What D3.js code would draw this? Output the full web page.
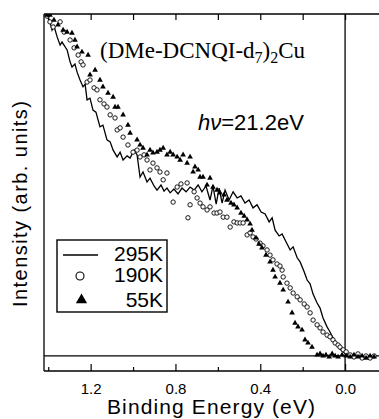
<!DOCTYPE html>
<html>
<head>
<meta charset="utf-8">
<script src="https://cdn.jsdelivr.net/npm/d3@7"></script>
<style>
  html, body { margin: 0; padding: 0; background: #fff; }
  svg { display: block; }
</style>
</head>
<body>
<svg id="chart" width="379" height="419"></svg>
<script>
// [binding energy (eV), intensity (arb.)]
const line295 = [
  [1.406, 99.4], [1.392, 97.7], [1.382, 95.3], [1.373, 96.5], [1.358, 93.3], [1.344, 90.9],
  [1.335, 91.8], [1.311, 89.5], [1.297, 86.0], [1.288, 84.5], [1.274, 85.4], [1.264, 83.0],
  [1.250, 80.7], [1.236, 78.7], [1.226, 79.5], [1.217, 74.9], [1.203, 75.4], [1.189, 71.9],
  [1.175, 71.3], [1.156, 67.0], [1.142, 67.5], [1.123, 63.2], [1.108, 62.6], [1.094, 60.2],
  [1.075, 58.2], [1.061, 59.6], [1.047, 57.3], [1.028, 58.5], [1.014, 57.9], [0.995, 60.2],
  [0.981, 58.8], [0.967, 52.3], [0.953, 53.8], [0.934, 50.9], [0.920, 52.0], [0.901, 49.7],
  [0.887, 48.5], [0.868, 50.0], [0.854, 48.2], [0.840, 49.1], [0.825, 47.7], [0.807, 48.8],
  [0.788, 47.4], [0.769, 49.1], [0.750, 48.0], [0.731, 49.4], [0.712, 48.5], [0.693, 50.0],
  [0.675, 48.0], [0.656, 49.7], [0.637, 45.6], [0.623, 49.7], [0.608, 44.4], [0.594, 49.1],
  [0.580, 44.7], [0.566, 48.5], [0.547, 45.6], [0.528, 48.0], [0.509, 46.2], [0.491, 46.8],
  [0.472, 44.7], [0.453, 45.6], [0.434, 43.3], [0.415, 44.2], [0.396, 42.1], [0.377, 41.5],
  [0.358, 39.2], [0.344, 40.4], [0.330, 36.8], [0.311, 35.1], [0.297, 35.7], [0.278, 33.3],
  [0.259, 31.0], [0.245, 31.9], [0.226, 28.7], [0.212, 27.5], [0.193, 24.6], [0.179, 22.2],
  [0.165, 21.1], [0.151, 18.1], [0.132, 15.5], [0.118, 14.0], [0.104, 11.1], [0.085, 8.5],
  [0.071, 7.0], [0.052, 4.7], [0.038, 3.5], [0.024, 2.0], [0.009, 1.2], [-0.005, 0.6],
  [-0.024, -0.3], [-0.047, 0.3], [-0.071, -0.3], [-0.094, 0.0], [-0.118, -0.3], [-0.146, 0.0]
];

const circ190 = [
  [1.406, 99.4], [1.392, 97.7], [1.377, 96.2], [1.344, 97.7], [1.325, 94.7], [1.297, 92.4],
  [1.278, 90.1], [1.259, 88.0], [1.245, 86.0], [1.236, 85.1], [1.217, 80.1], [1.203, 80.7],
  [1.184, 78.4], [1.170, 77.8], [1.156, 74.9], [1.137, 73.7], [1.123, 72.8], [1.108, 70.5],
  [1.085, 69.6], [1.075, 66.1], [1.061, 66.7], [1.047, 64.0], [1.024, 61.7], [1.000, 59.6],
  [0.981, 60.2], [0.967, 58.2], [0.948, 58.8], [0.934, 57.3], [0.920, 54.4], [0.906, 56.4],
  [0.887, 55.0], [0.873, 53.8], [0.858, 51.5], [0.840, 53.5], [0.811, 45.0], [0.792, 49.4],
  [0.774, 50.3], [0.745, 50.6], [0.741, 40.4], [0.731, 44.2], [0.712, 48.0], [0.698, 46.2],
  [0.684, 44.7], [0.670, 43.6], [0.651, 42.7], [0.637, 43.6], [0.618, 41.8], [0.604, 41.8],
  [0.590, 42.1], [0.575, 40.6], [0.557, 40.6], [0.542, 37.7], [0.524, 39.2], [0.509, 38.9],
  [0.495, 38.9], [0.481, 38.9], [0.462, 35.4], [0.448, 36.0], [0.434, 34.8], [0.420, 34.2],
  [0.401, 33.0], [0.387, 32.2], [0.368, 31.0], [0.354, 29.5], [0.340, 28.1], [0.321, 26.9],
  [0.307, 26.3], [0.297, 25.1], [0.292, 23.1], [0.274, 21.3], [0.259, 19.9], [0.245, 18.4],
  [0.226, 17.3], [0.212, 16.4], [0.193, 15.2], [0.179, 14.3], [0.165, 12.6], [0.151, 10.5],
  [0.132, 9.1], [0.118, 8.2], [0.104, 7.0], [0.085, 6.1], [0.071, 5.6], [0.057, 4.7],
  [0.047, 3.8], [0.033, 3.2], [0.024, 2.6], [0.009, 1.8], [-0.005, 1.2], [-0.024, 0.3],
  [-0.042, -0.3], [-0.061, 0.6], [-0.080, -0.6], [-0.099, 0.0], [-0.118, -0.6], [-0.137, 0.0]
];

const tri55 = [
  [1.406, 99.7], [1.392, 99.7], [1.373, 98.2], [1.354, 96.8], [1.330, 95.3], [1.311, 94.7],
  [1.288, 94.4], [1.274, 92.4], [1.264, 90.4], [1.241, 88.9], [1.212, 88.0], [1.203, 82.2],
  [1.179, 83.6], [1.156, 80.7], [1.142, 78.7], [1.118, 76.9], [1.094, 75.7], [1.085, 72.8],
  [1.071, 72.8], [1.047, 70.5], [1.024, 67.5], [1.014, 65.2], [0.981, 63.2], [0.967, 61.7],
  [0.953, 60.8], [0.934, 58.8], [0.920, 60.2], [0.906, 59.4], [0.887, 59.6], [0.873, 60.2],
  [0.858, 60.8], [0.840, 58.8], [0.825, 59.6], [0.811, 58.8], [0.792, 58.2], [0.778, 57.3],
  [0.764, 58.8], [0.745, 56.4], [0.731, 58.2], [0.717, 53.8], [0.708, 55.3], [0.693, 54.4],
  [0.684, 52.3], [0.670, 52.3], [0.651, 50.0], [0.637, 52.0], [0.623, 49.4], [0.604, 48.5],
  [0.590, 47.7], [0.571, 47.1], [0.557, 45.6], [0.538, 44.7], [0.524, 44.2], [0.509, 43.3],
  [0.491, 41.8], [0.476, 40.9], [0.462, 39.8], [0.448, 38.6], [0.439, 36.8], [0.420, 34.5],
  [0.406, 32.7], [0.392, 31.6], [0.373, 29.5], [0.354, 27.5], [0.340, 25.1], [0.330, 23.1],
  [0.307, 21.3], [0.292, 19.3], [0.269, 15.8], [0.250, 12.6], [0.236, 9.6], [0.222, 8.5],
  [0.203, 7.6], [0.189, 4.7], [0.175, 3.8], [0.156, 2.6], [0.132, 0.3], [0.118, 0.6],
  [0.104, 0.0], [0.090, 0.3], [0.075, -0.3], [0.061, 0.6], [0.047, 0.0], [0.033, -0.3],
  [0.014, 0.3], [-0.005, 0.0], [-0.024, -0.3], [-0.042, 0.3], [-0.061, -0.3], [-0.080, 0.0],
  [-0.099, -0.6], [-0.118, 0.0], [-0.137, -0.3]
];

const majorTicks = [1.2, 0.8, 0.4, 0.0];
const minorTicks = [1.4, 1.0, 0.6, 0.2];
const legendLabels = ['295K', '190K', '55K'];

const svg = d3.select('#chart');
const plotLeft = 44, plotRight = 379, plotTop = 14, plotBottom = 371;

const x = d3.scaleLinear().domain([1.42, -0.16]).range([plotLeft, plotRight]);
const y = d3.scaleLinear().domain([-4.4, 100]).range([plotBottom, plotTop]);

svg.append('defs').append('clipPath').attr('id', 'clip')
  .append('rect').attr('x', plotLeft).attr('y', plotTop)
  .attr('width', plotRight - plotLeft).attr('height', plotBottom - plotTop);

const frame = svg.append('g').attr('stroke', '#000').attr('stroke-width', 1.3).attr('fill', 'none');
frame.append('line').attr('x1', plotLeft).attr('x2', plotRight).attr('y1', plotTop).attr('y2', plotTop);
frame.append('line').attr('x1', plotLeft).attr('x2', plotRight).attr('y1', plotBottom).attr('y2', plotBottom);
frame.append('line').attr('x1', plotLeft).attr('x2', plotLeft).attr('y1', plotTop).attr('y2', plotBottom);
frame.append('line').attr('x1', x(0)).attr('x2', x(0)).attr('y1', plotTop).attr('y2', plotBottom);
frame.append('line').attr('x1', plotLeft).attr('x2', plotRight).attr('y1', y(0)).attr('y2', y(0)).attr('stroke-width', 1.2);

function styleAxis(g) {
  g.select('.domain').remove();
  g.selectAll('.tick line').attr('stroke', '#000').attr('stroke-width', 1.2);
}

// bottom axis, ticks pointing inward
svg.append('g').attr('transform', `translate(0,${plotBottom})`)
  .call(d3.axisBottom(x).tickValues(majorTicks).tickSizeInner(-7).tickSizeOuter(0)
    .tickPadding(12).tickFormat(d3.format('.1f')))
  .call(styleAxis)
  .selectAll('text')
  .attr('font-family', 'Liberation Sans, Arial, sans-serif')
  .attr('font-size', 15)
  .attr('fill', '#000');

svg.append('g').attr('transform', `translate(0,${plotBottom})`)
  .call(d3.axisBottom(x).tickValues(minorTicks).tickSizeInner(-4).tickSizeOuter(0).tickFormat(''))
  .call(styleAxis);

svg.append('g').attr('transform', `translate(0,${plotTop})`)
  .call(d3.axisTop(x).tickValues(majorTicks.concat(minorTicks)).tickSizeInner(-6).tickSizeOuter(0).tickFormat(''))
  .call(styleAxis);

// data
const plot = svg.append('g').attr('clip-path', 'url(#clip)');

plot.append('path').datum(line295)
  .attr('fill', 'none')
  .attr('stroke', '#000')
  .attr('stroke-width', 1.3)
  .attr('stroke-linejoin', 'miter')
  .attr('d', d3.line().x(d => x(d[0])).y(d => y(d[1])));

plot.selectAll('.c190').data(circ190).enter().append('circle')
  .attr('class', 'c190')
  .attr('cx', d => x(d[0]))
  .attr('cy', d => y(d[1]))
  .attr('r', 2.2)
  .attr('fill', '#fff')
  .attr('stroke', '#000')
  .attr('stroke-width', 0.9);

const triSym = d3.symbol().type(d3.symbolTriangle).size(14);
plot.selectAll('.t55').data(tri55).enter().append('path')
  .attr('class', 't55')
  .attr('transform', d => `translate(${x(d[0])},${y(d[1])})`)
  .attr('d', triSym)
  .attr('fill', '#000');

// labels
svg.append('text')
  .attr('x', 100).attr('y', 58)
  .attr('font-family', 'Liberation Serif, Times New Roman, serif')
  .attr('font-size', 23)
  .attr('fill', '#000')
  .call(t => {
    t.append('tspan').text('(DMe-DCNQI-d');
    t.append('tspan').attr('font-size', 16).attr('dy', 5).text('7');
    t.append('tspan').attr('dy', -5).text(')');
    t.append('tspan').attr('font-size', 16).attr('dy', 5).text('2');
    t.append('tspan').attr('dy', -5).text('Cu');
  });

svg.append('text')
  .attr('x', 198).attr('y', 130)
  .attr('font-family', 'Liberation Sans, Arial, sans-serif')
  .attr('font-size', 22)
  .attr('fill', '#000')
  .call(t => {
    t.append('tspan').attr('font-style', 'italic').text('hν');
    t.append('tspan').text('=21.2eV');
  });

svg.append('text')
  .attr('x', 211).attr('y', 414)
  .attr('text-anchor', 'middle')
  .attr('font-family', 'Liberation Sans, Arial, sans-serif')
  .attr('font-size', 21)
  .attr('textLength', 208)
  .attr('lengthAdjust', 'spacing')
  .attr('fill', '#000')
  .text('Binding Energy (eV)');

svg.append('text')
  .attr('transform', 'translate(27,204) rotate(-90)')
  .attr('text-anchor', 'middle')
  .attr('font-family', 'Liberation Sans, Arial, sans-serif')
  .attr('font-size', 20)
  .attr('textLength', 206)
  .attr('lengthAdjust', 'spacing')
  .attr('fill', '#000')
  .text('Intensity (arb. units)');

// legend
const legend = svg.append('g');
legend.append('rect')
  .attr('x', 57).attr('y', 240).attr('width', 110).attr('height', 72)
  .attr('fill', '#fff').attr('stroke', '#000').attr('stroke-width', 1.4);

const legendRows = [261, 282, 307];
legend.selectAll('.lt').data(legendLabels).enter().append('text')
  .attr('class', 'lt')
  .attr('x', 163)
  .attr('y', (d, i) => legendRows[i])
  .attr('text-anchor', 'end')
  .attr('font-family', 'Liberation Sans, Arial, sans-serif')
  .attr('font-size', 21)
  .attr('fill', '#000')
  .text(d => d);

legend.append('line')
  .attr('x1', 63).attr('x2', 98).attr('y1', 255).attr('y2', 255)
  .attr('stroke', '#000').attr('stroke-width', 1.3);
legend.append('circle')
  .attr('cx', 80).attr('cy', 276).attr('r', 4)
  .attr('fill', '#fff').attr('stroke', '#000').attr('stroke-width', 1.1);
legend.append('path')
  .attr('transform', 'translate(81.5,300)')
  .attr('d', d3.symbol().type(d3.symbolTriangle).size(55))
  .attr('fill', '#000');
</script>
</body>
</html>
